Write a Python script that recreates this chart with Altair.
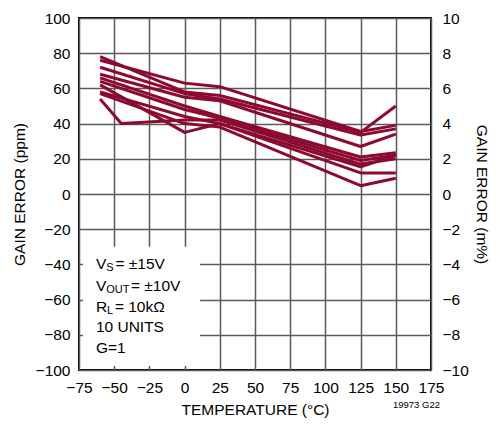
import altair as alt
import pandas as pd

# ---- data ----
temps = [-60, 0, 25, 125, 150]
unit1 = [76, 63, 61, 35.5, 39]
unit2 = [78, 58, 56, 35, 50]
unit3 = [72, 57, 54, 33.5, 37]
unit4 = [68, 55, 53, 27, 34]
unit5 = [66, 50, 44, 21, 23.5]
unit6 = [64, 48, 43, 19, 22]
unit7 = [58, 44, 40, 15.5, 22]
unit8 = [57, 40, 38, 4.7, 9]
unit10 = [62, 35, 40, 12, 12]
temps9 = [-60, -45, 0, 25, 125, 150]
unit9 = [54, 40, 42, 42, 17, 20]

x_ticks = [-75, -50, -25, 0, 25, 50, 75, 100, 125, 150, 175]
y_ticks = [-100, -80, -60, -40, -20, 0, 20, 40, 60, 80, 100]
y2_ticks = [-10, -8, -6, -4, -2, 0, 2, 4, 6, 8, 10]

series = [(temps, unit1), (temps, unit2), (temps, unit3), (temps, unit4),
          (temps, unit5), (temps, unit6), (temps, unit7), (temps, unit8),
          (temps9, unit9), (temps, unit10)]
rows = []
for i, (ts, vs) in enumerate(series):
    for t, v in zip(ts, vs):
        rows.append({"unit": f"U{i+1}", "temp": t, "ppm": v})
df = pd.DataFrame(rows)

FONT = "Liberation Sans"
FS = 15.5
RED = "#8c0a2f"

x_scale = alt.Scale(domain=[-75, 175], nice=False, zero=False)
y_scale = alt.Scale(domain=[-100, 100], nice=False, zero=False)
x_axis = alt.Axis(values=x_ticks, title="TEMPERATURE (°C)", grid=True,
                  labelPadding=10, titlePadding=7, labelOverlap=False)
y_axis = alt.Axis(values=y_ticks, title="GAIN ERROR (ppm)", grid=True,
                  labelPadding=9, titlePadding=8, labelOverlap=False)

def X(f):
    return alt.X(f, scale=x_scale, axis=x_axis)

def Y(f):
    return alt.Y(f, scale=y_scale, axis=y_axis)

lines = alt.Chart(df).mark_line(color=RED, strokeWidth=3, strokeJoin="round").encode(
    x=X("temp:Q"), y=Y("ppm:Q"), detail="unit:N")

# white box behind the conditions text (hides grid there)
box_df = pd.DataFrame({"temp": [-72.2], "temp2": [11], "ppm": [-97.7], "ppm2": [-30]})
box = alt.Chart(box_df).mark_rect(color="white").encode(
    x=X("temp:Q"), x2="temp2:Q", y=Y("ppm:Q"), y2="ppm2:Q")

# conditions text
def txt(s, x, y, size=FS, dx=0, dy=0):
    d = pd.DataFrame({"temp": [x], "ppm": [y], "t": [s]})
    return alt.Chart(d).mark_text(text=s, font=FONT, fontSize=size, align="left",
                                  baseline="middle", dx=dx, dy=dy, color="black").encode(
        x=X("temp:Q"), y=Y("ppm:Q"))

tx = -63
texts = [
    txt("V", tx, -40), txt("S", tx, -40, 11, dx=10.3, dy=4), txt(" = ±15V", tx, -40, dx=19.5),
    txt("V", tx, -52), txt("OUT", tx, -52, 11, dx=10.3, dy=4), txt(" = ±10V", tx, -52, dx=35),
    txt("R", tx, -64), txt("L", tx, -64, 11, dx=11.2, dy=4), txt(" = 10kΩ", tx, -64, dx=19),
    txt("10 UNITS", tx, -75.5),
    txt("G=1", tx, -87.5),
]

foot = alt.Chart(pd.DataFrame({"t": ["19973 G22"]})).mark_text(
    text="19973 G22", font=FONT, fontSize=9.5, align="right", baseline="middle",
    color="black").encode(x=alt.value(361), y=alt.value(387))

left = alt.layer(box, lines, *texts, foot)

right = alt.Chart(pd.DataFrame({"m": [-10, 10]})).mark_point(opacity=0).encode(
    y=alt.Y("m:Q", scale=alt.Scale(domain=[-10, 10], nice=False),
            axis=alt.Axis(orient="right", values=y2_ticks, title="GAIN ERROR (m%)",
                          grid=False, labelPadding=11, titlePadding=5,
                          labelOverlap=False)))

chart = alt.layer(left, right).resolve_scale(y="independent").properties(
    width=352, height=352,
    autosize=alt.AutoSizeParams(type="none"),
    padding={"left": 71, "top": 10, "right": 61, "bottom": 50},
).configure_view(stroke="black", strokeWidth=2).configure_axis(
    labelFont=FONT, labelFontSize=FS, labelColor="black",
    titleFont=FONT, titleFontSize=FS, titleFontWeight="normal", titleColor="black",
    gridColor="#5a5a5a", gridWidth=1.5, gridOpacity=1,
    tickSize=0, domain=False, labelFlush=False, labelOverlap=False,
)

chart.save("out.html", embed_options={"renderer": "svg", "actions": False})
